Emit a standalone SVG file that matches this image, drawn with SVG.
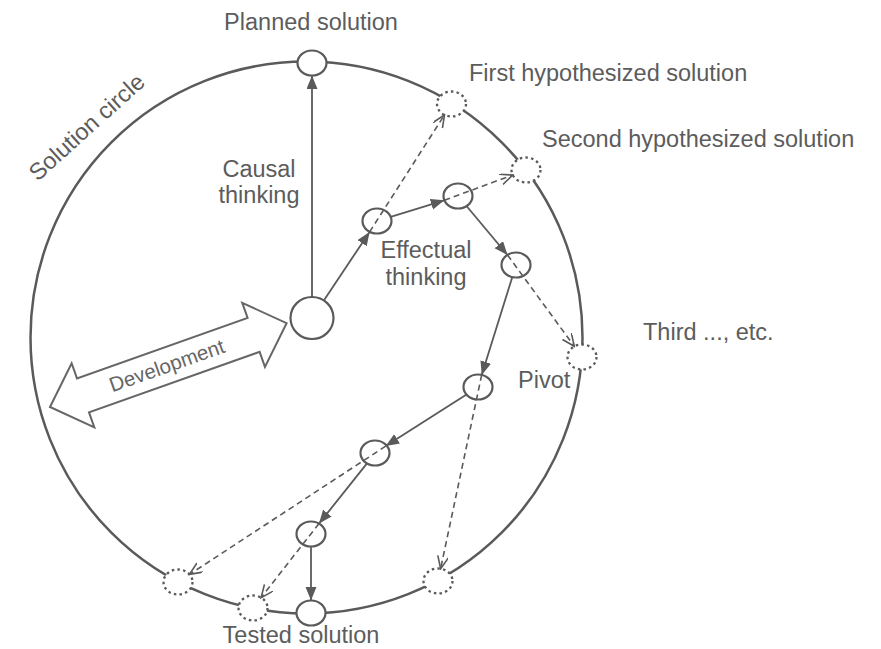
<svg xmlns="http://www.w3.org/2000/svg" width="881" height="649" viewBox="0 0 881 649">
<defs>
<style>
.ring{fill:none;stroke:#5a5a5a;stroke-width:2.5}
.node{fill:#fff;stroke:#5a5a5a;stroke-width:2.2}
.hyp{fill:#fff;stroke:#5a5a5a;stroke-width:2.3;stroke-dasharray:2.5 3.2}
.solid{fill:none;stroke:#5a5a5a;stroke-width:1.8;marker-end:url(#tri)}
.dash{fill:none;stroke:#5a5a5a;stroke-width:1.6;stroke-dasharray:6 4;marker-end:url(#vee)}
.lbl{font-family:"Liberation Sans",Arial,sans-serif;font-size:23.5px;fill:#5c5c5c}
.arrow{fill:#fff;stroke:#666;stroke-width:2;stroke-linejoin:miter}
</style>
<marker id="tri" markerUnits="userSpaceOnUse" markerWidth="15" markerHeight="12" refX="13.5" refY="5.5" orient="auto" viewBox="0 0 15 12">
<path d="M0,0 L13.5,5.5 L0,11 z" fill="#5a5a5a"/>
</marker>
<marker id="vee" markerUnits="userSpaceOnUse" markerWidth="14" markerHeight="12" refX="12.5" refY="5.5" orient="auto" viewBox="0 0 14 12">
<path d="M0,0 L12.5,5.5 L0,11" fill="none" stroke="#5a5a5a" stroke-width="1.6"/>
</marker>
</defs>
<rect width="881" height="649" fill="#fff"/>

<g id="solution-circle">
<circle class="ring" cx="306.5" cy="337.5" r="276"/>
<text class="lbl" transform="translate(92,133) rotate(-42)" text-anchor="middle">Solution circle</text>
</g>

<g id="development">
<g transform="translate(50,407) rotate(-19.5)">
<path class="arrow" d="M0,0 L35,-34 L35,-18 L216,-18 L216,-34 L251,0 L216,34 L216,18 L35,18 L35,34 Z"/>
<text x="124" y="7" text-anchor="middle" style="font-family:'Liberation Sans',Arial,sans-serif;font-size:20.5px;fill:#666">Development</text>
</g>
</g>

<g id="start"><ellipse class="node" cx="312" cy="318" rx="21.5" ry="21"/></g>
<g id="planned"><ellipse class="node" cx="312" cy="63" rx="14.5" ry="12.5"/>
<text class="lbl" x="311" y="30" text-anchor="middle">Planned solution</text></g>
<g id="n1"><ellipse class="node" cx="377" cy="221" rx="14.5" ry="12.5"/></g>
<g id="n2"><ellipse class="node" cx="458" cy="196" rx="14.5" ry="12.5"/></g>
<g id="n3"><ellipse class="node" cx="516" cy="265" rx="14.5" ry="12.5"/></g>
<g id="n4"><ellipse class="node" cx="478" cy="387" rx="14.5" ry="12.5"/></g>
<g id="n5"><ellipse class="node" cx="375" cy="453" rx="14.5" ry="12.5"/></g>
<g id="n6"><ellipse class="node" cx="311" cy="534" rx="14.5" ry="12.5"/></g>
<g id="tested"><ellipse class="node" cx="311" cy="613" rx="14.5" ry="12.5"/>
<text class="lbl" x="301" y="643" text-anchor="middle">Tested solution</text></g>

<g id="hyp1"><ellipse class="hyp" cx="451.5" cy="104" rx="14.5" ry="12.5"/>
<text class="lbl" x="469" y="81">First hypothesized solution</text></g>
<g id="hyp2"><ellipse class="hyp" cx="526" cy="170" rx="14.5" ry="12.5"/>
<text class="lbl" x="542" y="147">Second hypothesized solution</text></g>
<g id="hyp3"><ellipse class="hyp" cx="582" cy="357" rx="14.5" ry="12.5"/>
<text class="lbl" x="643" y="340">Third ..., etc.</text></g>
<g id="hyp4"><ellipse class="hyp" cx="438" cy="581" rx="14.5" ry="12.5"/></g>
<g id="hyp5"><ellipse class="hyp" cx="178" cy="582" rx="14.5" ry="12.5"/></g>
<g id="hyp6"><ellipse class="hyp" cx="253" cy="608" rx="14.5" ry="12.5"/></g>

<g id="connectors">
<path class="solid" d="M312,297 L312,75.5"/>
<path class="solid" d="M324,300.2 L369.6,231.9"/>
<path class="solid" d="M390.7,216.8 L444.3,200.3"/>
<path class="solid" d="M466.5,206 L507.5,255"/>
<path class="solid" d="M512.3,277.1 L481.7,374.9"/>
<path class="solid" d="M467.3,393.9 L385.7,446.1"/>
<path class="solid" d="M367,463.4 L319,523.6"/>
<path class="solid" d="M311,546.5 L311,600.5"/>
<path class="dash" d="M369.6,231.9 L444.5,114.9"/>
<path class="dash" d="M444.3,200.3 L512.7,175"/>
<path class="dash" d="M507.5,255 L574.3,346.3"/>
<path class="dash" d="M481.7,374.9 L440.6,568.7"/>
<path class="dash" d="M385.7,446.1 L189.5,574.4"/>
<path class="dash" d="M319,523.6 L261.1,597.6"/>
</g>

<g id="labels">
<text class="lbl" x="259" y="177" text-anchor="middle">Causal</text>
<text class="lbl" x="259" y="203" text-anchor="middle">thinking</text>
<text class="lbl" x="426" y="258" text-anchor="middle">Effectual</text>
<text class="lbl" x="426" y="285" text-anchor="middle">thinking</text>
<text class="lbl" x="518" y="388">Pivot</text>
</g>
</svg>
